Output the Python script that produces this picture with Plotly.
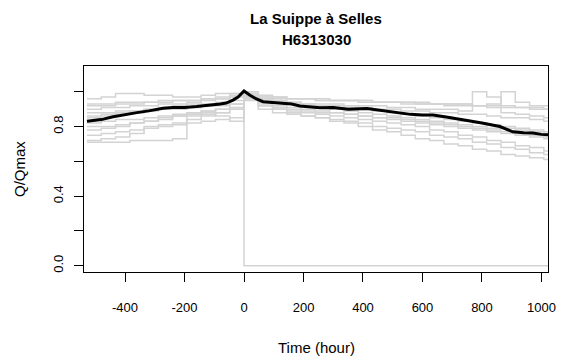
import plotly.graph_objects as go

times = [-528, -480, -432, -384, -336, -288, -240, -192, -144, -96, -48, 0,
         48, 96, 144, 192, 240, 288, 336, 384, 432, 480, 528, 576, 624, 672,
         720, 768, 816, 864, 912, 960, 1008, 1032]

events = {
    "e1": [0.93,0.93,0.94,0.94,0.94,0.95,0.95,0.95,0.96,0.96,0.97,0.99,0.97,0.96,0.96,0.96,0.95,0.95,0.95,0.94,0.94,0.94,0.93,0.93,0.93,0.92,0.92,0.92,0.91,0.91,0.91,0.90,0.90,0.90],
    "e2": [0.90,0.91,0.91,0.92,0.92,0.93,0.93,0.94,0.95,0.96,0.97,0.98,0.95,0.94,0.94,0.93,0.93,0.93,0.92,0.92,0.92,0.91,0.91,0.90,0.90,0.90,0.89,1.00,0.97,0.88,0.87,0.86,0.85,0.84],
    "e3": [0.72,0.73,0.74,0.76,0.80,0.81,0.82,0.84,0.86,0.88,0.90,0.97,0.93,0.90,0.88,0.86,0.85,0.83,0.82,0.80,0.78,0.77,0.75,0.73,0.72,0.70,0.69,0.67,0.66,0.64,0.63,0.62,0.61,0.60],
    "e4": [0.71,0.71,0.71,0.72,0.72,0.72,0.73,0.88,0.89,0.90,0.91,0.96,0.94,0.92,0.91,0.90,0.89,0.88,0.87,0.86,0.85,0.84,0.83,0.82,0.81,0.80,0.79,0.78,0.77,0.76,0.75,0.74,0.73,0.72],
    "e5": [0.85,0.86,0.87,0.88,0.89,0.90,0.90,0.91,0.92,0.93,0.99,0.0,0.0,0.0,0.0,0.0,0.0,0.0,0.0,0.0,0.0,0.0,0.0,0.0,0.0,0.0,0.0,0.0,0.0,0.0,0.0,0.0,0.0,0.0],
    "e6": [0.78,0.79,0.80,0.82,0.83,0.84,0.86,0.87,0.88,0.90,0.93,0.97,0.96,0.95,0.94,0.93,0.92,0.91,0.91,0.90,0.89,0.88,0.87,0.86,0.85,0.84,0.83,0.82,0.81,0.80,0.79,0.78,0.77,0.76],
    "e7": [0.88,0.88,0.89,0.89,0.90,0.90,0.91,0.91,0.92,0.92,0.93,0.95,0.92,0.91,0.90,0.89,0.88,0.88,0.87,0.86,0.85,0.85,0.84,0.83,0.82,0.81,0.80,0.79,0.78,0.77,0.76,0.75,0.74,0.73],
    "e8": [0.96,0.97,0.99,0.99,0.98,0.98,0.97,0.97,0.98,0.99,0.99,1.00,0.98,0.97,0.96,0.96,0.95,0.95,0.95,0.95,0.94,0.94,0.94,0.93,0.93,0.93,0.93,0.92,0.93,1.00,0.94,0.92,0.92,0.91],
    "e9": [0.75,0.76,0.77,0.78,0.79,0.80,0.81,0.82,0.83,0.84,0.85,0.98,0.90,0.88,0.87,0.86,0.85,0.84,0.83,0.82,0.80,0.79,0.78,0.77,0.75,0.74,0.73,0.71,0.70,0.68,0.67,0.65,0.64,0.63],
    "e10": [0.82,0.83,0.84,0.84,0.85,0.86,0.87,0.88,0.89,0.86,0.83,0.99,0.96,0.94,0.93,0.93,0.92,0.92,0.91,0.91,0.90,0.90,0.89,0.89,0.88,0.88,0.87,0.87,0.86,0.85,0.85,0.84,0.83,0.82],
    "e11": [0.86,0.87,0.88,0.89,0.90,0.91,0.92,0.93,0.93,0.94,0.95,0.97,0.95,0.94,0.93,0.92,0.91,0.90,0.89,0.88,0.87,0.86,0.85,0.84,0.83,0.82,0.81,0.80,0.79,0.79,0.78,0.77,0.76,0.75],
    "e12": [0.80,0.80,0.81,0.82,0.83,0.85,0.86,0.86,0.87,0.88,0.90,0.96,0.92,0.90,0.89,0.88,0.87,0.86,0.85,0.84,0.83,0.82,0.81,0.80,0.78,0.77,0.75,0.74,0.72,0.71,0.69,0.68,0.66,0.65],
    "e13": [0.92,0.92,0.93,0.93,0.94,0.94,0.95,0.95,0.96,0.97,0.98,0.99,0.97,0.97,0.96,0.96,0.96,0.95,0.95,0.95,0.94,0.94,0.94,0.94,0.93,0.93,0.93,0.92,0.92,0.92,0.91,0.91,0.90,0.89],
}

median_t = [-528,-480,-440,-400,-360,-320,-272,-240,-200,-160,-104,-80,-60,-37,-20,0,20,40,64,90,
            121,160,188,255,300,350,413,450,500,560,600,635,680,749,800,860,904,940,971,1000,1032]
median_q = [0.83,0.84,0.856,0.87,0.88,0.89,0.905,0.91,0.91,0.915,0.923,0.93,0.935,0.952,0.97,1.004,0.98,0.96,0.943,0.94,
            0.935,0.93,0.918,0.908,0.91,0.90,0.904,0.895,0.885,0.87,0.866,0.866,0.855,0.837,0.82,0.80,0.77,0.765,0.763,0.755,0.751]

x_ticks = [-400, -200, 0, 200, 400, 600, 800, 1000]
x_ticktext = ["-400", "-200", "0", "200", "400", "600", "800", "1000"]
y_ticks = [0.0, 0.2, 0.4, 0.6, 0.8, 1.0]
y_ticktext = ["0.0", "", "0.4", "", "0.8", ""]

fig = go.Figure()
for name, vals in events.items():
    fig.add_trace(go.Scatter(x=times, y=vals, mode="lines", line=dict(color="#d3d3d3", width=1.5, shape="hv"),
                             hoverinfo="skip", showlegend=False))
fig.add_trace(go.Scatter(x=median_t, y=median_q, mode="lines", line=dict(color="black", width=3),
                         showlegend=False))

fam = "Liberation Sans, Arial, sans-serif"
tick_font = dict(family=fam, size=13, color="black")
label_font = dict(family=fam, size=15, color="black")
fig.update_layout(
    width=563, height=360,
    margin=dict(l=84, r=15, t=66, b=88, autoexpand=False),
    plot_bgcolor="white", paper_bgcolor="white",
    font=tick_font,
    showlegend=False,
)
fig.update_xaxes(range=[-538, 1022], tickvals=x_ticks, ticktext=x_ticktext, ticks="outside", ticklen=9,
                 tickcolor="black",
                 showline=True, linecolor="black", linewidth=1, mirror=True, showgrid=False, zeroline=False,
                 ticklabelstandoff=14, automargin=False, tickfont=tick_font)
fig.update_yaxes(range=[-0.036, 1.148], tickvals=y_ticks, ticktext=y_ticktext, ticks="outside", ticklen=9,
                 tickcolor="black", tickangle=-90,
                 showline=True, linecolor="black", linewidth=1, mirror=True, showgrid=False, zeroline=False,
                 ticklabelstandoff=6, automargin=False, tickfont=tick_font)

title_font = dict(size=15, family=fam, color="black")
fig.add_annotation(text="<b>La Suippe à Selles</b>", xref="paper", yref="paper", x=0.5, y=1 + (66 - 19) / 206,
                   showarrow=False, font=title_font, yanchor="middle")
fig.add_annotation(text="<b>H6313030</b>", xref="paper", yref="paper", x=0.5, y=1 + (66 - 39) / 206,
                   showarrow=False, font=title_font, yanchor="middle")
fig.add_annotation(text="Time (hour)", xref="paper", yref="paper", x=0.5, y=-(347 - 272) / 206,
                   showarrow=False, font=label_font, yanchor="middle")
fig.add_annotation(text="Q/Qmax", xref="paper", yref="paper", x=-(84 - 19) / 464, y=0.5, textangle=-90,
                   showarrow=False, font=label_font, xanchor="center", yanchor="middle")

fig.write_html("out.html", config={"displayModeBar": False},
               post_script="document.body.style.margin='0px';document.body.style.overflow='hidden';")
